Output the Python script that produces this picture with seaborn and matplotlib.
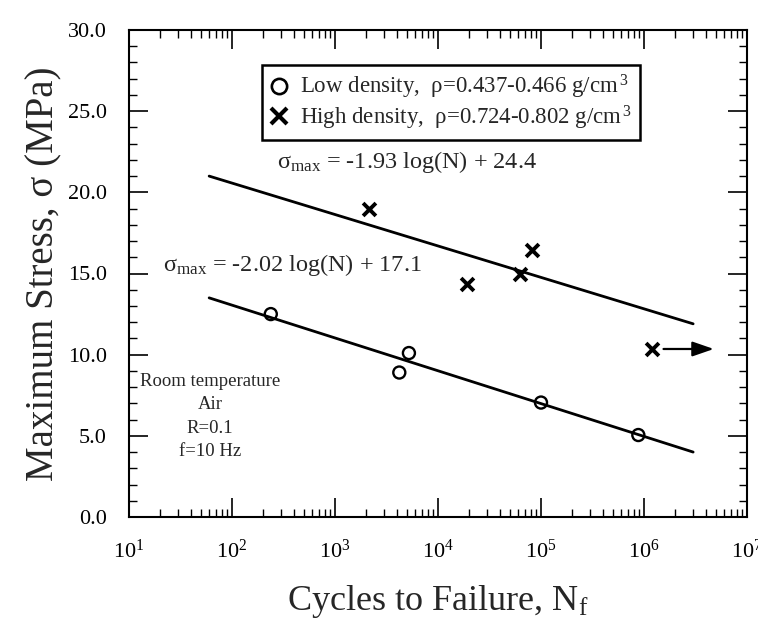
import matplotlib
matplotlib.use("Agg")
import matplotlib.pyplot as plt
from matplotlib.lines import Line2D
from matplotlib.ticker import MultipleLocator, LogLocator, NullFormatter, FormatStrFormatter
import seaborn as sns
import pandas as pd

# ---- data ----
low_cycles = [238, 4210, 5220, 100000, 881000]
low_stress = [12.5, 8.9, 10.1, 7.05, 5.05]
high_cycles = [2150, 19300, 62500, 82400, 1190000]
high_stress = [18.95, 14.35, 14.95, 16.45, 10.35]
runout_cycles = 1190000          # high-density specimen that did not fail
runout_stress = 10.35
fit_cycles = [60, 3.0e6]
low_fit_stress = [13.5, 4.0]
high_fit_stress = [21.0, 11.9]
low_label = "Low density,  \u03c1=0.437-0.466 g/cm$^{\\,3}$"
high_label = "High density,  \u03c1=0.724-0.802 g/cm$^{\\,3}$"
high_eq = "\u03c3$_{\\mathrm{max}}$ = -1.93 log(N) + 24.4"
low_eq = "\u03c3$_{\\mathrm{max}}$ = -2.02 log(N) + 17.1"
cond_text = "Room temperature\nAir\nR=0.1\nf=10 Hz"
x_ticks = [1e1, 1e2, 1e3, 1e4, 1e5, 1e6, 1e7]

sns.set_style("ticks")
plt.rcParams["font.family"] = ["Liberation Serif", "DejaVu Serif"]
plt.rcParams["mathtext.fontset"] = "custom"
plt.rcParams["mathtext.rm"] = "Liberation Serif"
plt.rcParams["mathtext.it"] = "Liberation Serif:italic"
plt.rcParams["mathtext.bf"] = "Liberation Serif:bold"

fig = plt.figure(figsize=(7.58, 6.28), dpi=100)
ax = fig.add_axes([129 / 758, 1 - 517 / 628, (747 - 129) / 758, (517 - 30) / 628])

low_df = pd.DataFrame({"N": low_cycles, "S": low_stress})
high_df = pd.DataFrame({"N": high_cycles, "S": high_stress})
lowfit_df = pd.DataFrame({"N": fit_cycles, "S": low_fit_stress})
highfit_df = pd.DataFrame({"N": fit_cycles, "S": high_fit_stress})

sns.lineplot(data=lowfit_df, x="N", y="S", ax=ax, color="black", lw=2.0)
sns.lineplot(data=highfit_df, x="N", y="S", ax=ax, color="black", lw=2.0)
sns.scatterplot(data=low_df, x="N", y="S", ax=ax, marker="o", s=75,
                facecolor="none", edgecolor="black", linewidth=1.7, zorder=5)
sns.scatterplot(data=high_df, x="N", y="S", ax=ax, marker="x", s=85,
                color="black", linewidth=2.8, zorder=5)

ax.annotate("", xy=(runout_cycles * 4.0, runout_stress),
            xytext=(runout_cycles * 1.3, runout_stress),
            arrowprops=dict(arrowstyle="-|>,head_length=1.3,head_width=0.45",
                            color="black", lw=1.6, shrinkA=0, shrinkB=0))

ax.set_xscale("log")
ax.set_xlim(1e1, 1e7)
ax.set_ylim(0, 30)
ax.set_xticks(x_ticks)
ax.xaxis.set_minor_locator(LogLocator(base=10, subs=range(2, 10), numticks=20))
ax.xaxis.set_minor_formatter(NullFormatter())
ax.yaxis.set_major_locator(MultipleLocator(5))
ax.yaxis.set_minor_locator(MultipleLocator(1))
ax.yaxis.set_major_formatter(FormatStrFormatter("%.1f"))

ax.tick_params(which="both", direction="in", top=True, right=True,
               colors="black", labelsize=16)
ax.tick_params(which="major", length=14, width=1.2)
ax.tick_params(which="minor", length=6, width=1.0)
ax.tick_params(axis="x", which="major", pad=16)
ax.tick_params(axis="y", which="major", pad=16)
for sp in ax.spines.values():
    sp.set_visible(True)
    sp.set_linewidth(1.5)
    sp.set_color("black")

ax.set_xlabel("Cycles to Failure, N$_{\\mathrm{f}}$", fontsize=26, labelpad=15)
ax.set_ylabel("Maximum Stress, \u03c3 (MPa)", fontsize=28, labelpad=4)

ax.text(273, 21.5, high_eq, fontsize=17.5, ha="left", va="baseline")
ax.text(21.5, 15.15, low_eq, fontsize=17.5, ha="left", va="baseline")
ax.text(61, 6.2, cond_text, fontsize=13.5, ha="center", va="center",
        linespacing=1.5)

handles = [
    Line2D([], [], marker="o", ls="none", markersize=11, markerfacecolor="none",
           markeredgecolor="black", markeredgewidth=1.9),
    Line2D([], [], marker="x", ls="none", markersize=11, color="black",
           markeredgewidth=3.0),
]
leg = ax.legend(handles, [low_label, high_label], loc="upper left",
                bbox_to_anchor=(0.215, 0.928), fontsize=16.5, frameon=True,
                fancybox=False, framealpha=1, edgecolor="black",
                handlelength=0.8, handletextpad=0.5, borderpad=0.35,
                borderaxespad=0, labelspacing=0.1)
leg.get_frame().set_linewidth(1.8)

fig.savefig("out.png", dpi=100)
